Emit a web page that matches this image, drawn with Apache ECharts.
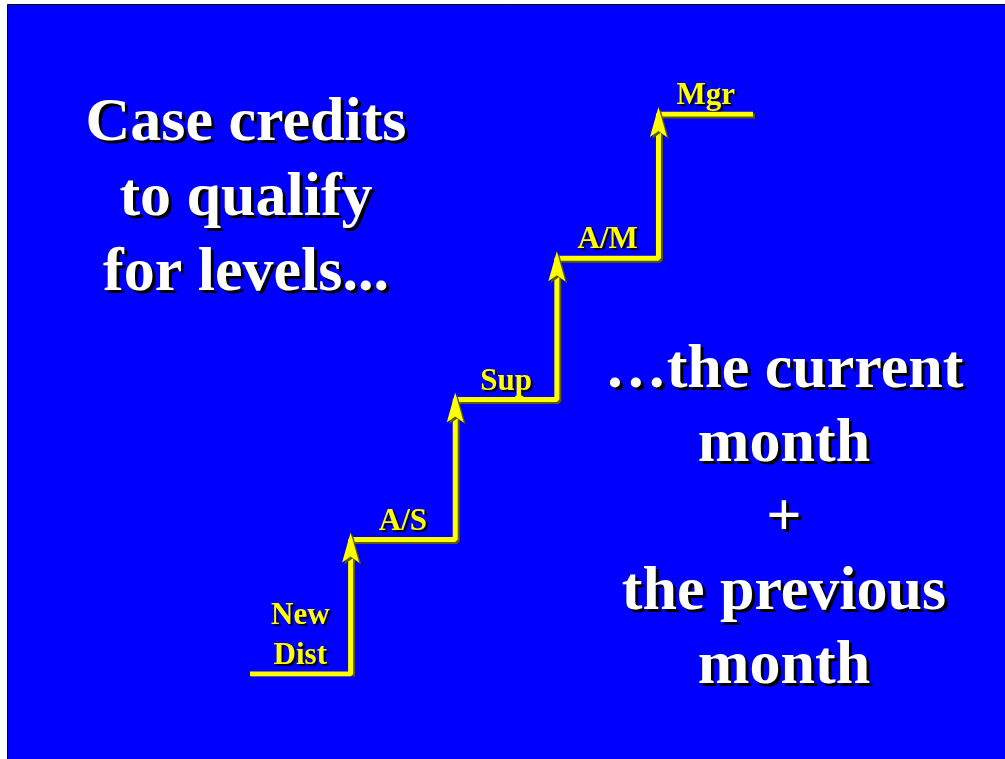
<!DOCTYPE html>
<html>
<head>
<meta charset="utf-8">
<script src="https://cdn.jsdelivr.net/npm/echarts@6/dist/echarts.min.js"></script>
<style>
  html, body { margin: 0; padding: 0; background: #fff; }
  #chart { width: 1005px; height: 759px; }
</style>
</head>
<body>
<div id="chart"></div>
<script>
// staircase corners (x = step position, y = level)
var stepX = [0, 1, 2.04, 3.05, 4.06, 5];
var stepY = [0, 0.96, 1.96, 2.97, 4, 4];
var levelNames = ['New\nDist', 'A/S', 'Sup', 'A/M', 'Mgr'];
var leftText = ['Case credits', 'to qualify', 'for levels...'];
var rightText = ['\u2026the current', 'month', '+', 'the previous', 'month'];

var myChart = echarts.init(document.getElementById('chart'));

var lineData = [];
for (var i = 0; i < stepX.length; i++) lineData.push([stepX[i], stepY[i]]);

// arrow heads at top of every riser
var arrowData = [];
for (var i = 1; i < stepX.length - 1; i++) arrowData.push([stepX[i], stepY[i]]);

// level names sit over the middle of each tread
var labelData = [];
for (var i = 0; i < levelNames.length; i++) {
    labelData.push({ value: [(stepX[i] + stepX[i + 1]) / 2, stepY[i]], name: levelNames[i] });
}

var serif = '"Liberation Serif", "Times New Roman", serif';

// big white caption with a hard black drop shadow (drawn twice)
function caption(lines, x, y, lh) {
    var base = {
        text: lines.join('\n'),
        font: 'bold 62px ' + serif,
        lineHeight: lh,
        align: 'center', verticalAlign: 'middle'
    };
    return [
        { type: 'text', z: 9, style: Object.assign({ x: x + 3, y: y + 3, fill: '#000' }, base) },
        { type: 'text', z: 10, style: Object.assign({ x: x, y: y, fill: '#fff' }, base) }
    ];
}

var option = {
    backgroundColor: '#ffffff',
    animation: false,
    grid: { left: 250, top: 114, width: 503, height: 560, containLabel: false },
    xAxis: { type: 'value', min: 0, max: 5, show: false },
    yAxis: { type: 'value', min: 0, max: 4, show: false },
    graphic: [
        {
            type: 'rect', z: -10, silent: true,
            shape: { x: 7.5, y: 4.5, width: 1010, height: 770 },
            style: { fill: '#0000ff', stroke: '#000', lineWidth: 1 }
        }
    ].concat(caption(leftText, 246, 199, 75), caption(rightText, 784, 519, 74)),
    series: [
        {
            type: 'line',
            step: 'end',
            symbol: 'none',
            data: lineData,
            lineStyle: {
                color: '#ffff00', width: 5,
                shadowColor: '#5a5a00', shadowOffsetX: 2, shadowOffsetY: 2, shadowBlur: 0
            }
        },
        {
            type: 'scatter',
            symbol: 'path://M9,0 L18,30 L9,24 L0,30 Z',
            symbolSize: [17, 30],
            symbolOffset: [0, 8],
            data: arrowData,
            itemStyle: {
                color: '#ffff00', opacity: 1,
                shadowColor: '#5a5a00', shadowOffsetX: 2, shadowOffsetY: 2, shadowBlur: 0
            },
            z: 3
        },
        {
            type: 'scatter',
            symbolSize: 0,
            data: labelData,
            itemStyle: { opacity: 1 },
            label: {
                show: true,
                position: 'top',
                distance: -2,
                formatter: '{b}',
                color: '#ffff00',
                fontFamily: serif,
                fontWeight: 'bold',
                fontSize: 31,
                lineHeight: 40,
                textShadowColor: '#000', textShadowOffsetX: 2, textShadowOffsetY: 2, textShadowBlur: 1
            }
        }
    ]
};

option && myChart.setOption(option);
</script>
</body>
</html>
